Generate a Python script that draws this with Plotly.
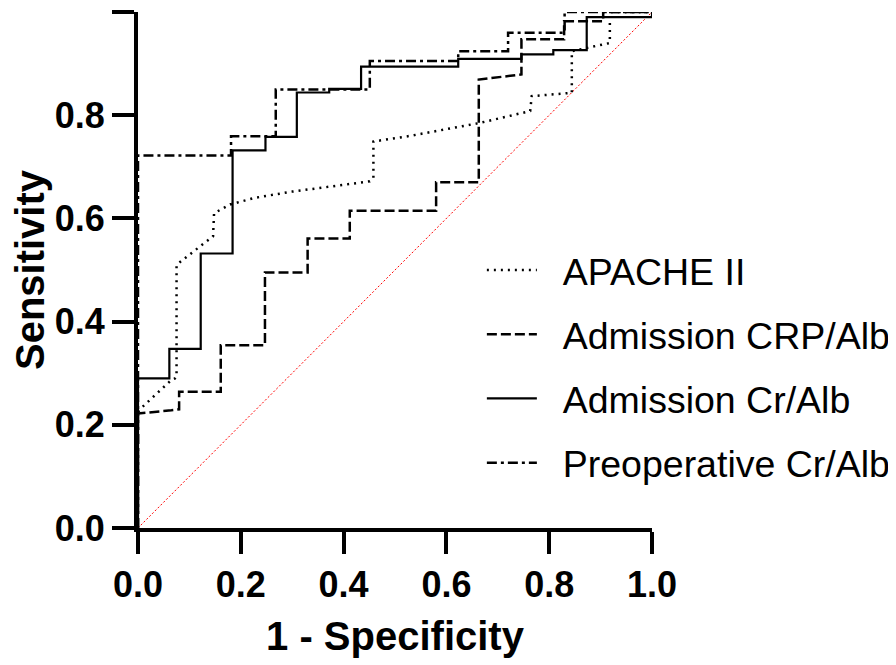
import plotly.graph_objects as go

# ROC curves (1 - specificity, sensitivity)
apache_x = [0, 0.009, 0.065, 0.072, 0.075, 0.075, 0.121, 0.146, 0.148, 0.179, 0.228, 0.30, 0.40, 0.451, 0.458,
            0.458, 0.53, 0.665, 0.763, 0.766, 0.840, 0.844, 0.844, 0.918, 0.918, 0.918, 1.0]
apache_y = [0.225, 0.235, 0.287, 0.290, 0.293, 0.510, 0.546, 0.565, 0.610, 0.627, 0.640, 0.652, 0.665, 0.672, 0.678,
            0.749, 0.760, 0.785, 0.808, 0.837, 0.843, 0.843, 0.924, 0.940, 0.976, 1.0, 1.0]

crp_x = [0, 0, 0.065, 0.080, 0.080, 0.161, 0.161, 0.247, 0.247, 0.330, 0.330, 0.412, 0.412, 0.580, 0.580,
         0.663, 0.663, 0.746, 0.746, 0.829, 0.829, 0.905, 0.905, 1.0]
crp_y = [0, 0.222, 0.228, 0.230, 0.264, 0.264, 0.354, 0.354, 0.495, 0.495, 0.561, 0.561, 0.615, 0.615, 0.670,
         0.670, 0.869, 0.879, 0.947, 0.947, 0.982, 0.982, 1.0, 1.0]

cr_x = [0, 0, 0.061, 0.061, 0.122, 0.122, 0.184, 0.184, 0.248, 0.248, 0.309, 0.309, 0.372, 0.372, 0.434, 0.434,
        0.623, 0.623, 0.746, 0.746, 0.808, 0.808, 0.873, 0.873, 1.0, 1.0]
cr_y = [0, 0.290, 0.290, 0.347, 0.347, 0.532, 0.532, 0.732, 0.732, 0.758, 0.758, 0.844, 0.844, 0.851, 0.851, 0.894,
        0.894, 0.909, 0.909, 0.918, 0.918, 0.926, 0.926, 0.990, 0.990, 1.0]

preop_x = [0, 0, 0.181, 0.181, 0.268, 0.268, 0.451, 0.451, 0.623, 0.623, 0.720, 0.720, 0.830, 0.830, 1.0]
preop_y = [0, 0.722, 0.722, 0.759, 0.759, 0.850, 0.850, 0.905, 0.905, 0.924, 0.924, 0.960, 0.960, 1.0, 1.0]

ref_x = [0, 1]
ref_y = [0, 1]

font_fam = "Arial, Liberation Sans, sans-serif"
pad = "\u00a0\u00a0"  # small gap between legend line and label

fig = go.Figure()
fig.add_trace(go.Scatter(x=ref_x, y=ref_y, mode="lines", showlegend=False,
                         line=dict(color="#ff0000", width=1, dash="2px,2px")))
fig.add_trace(go.Scatter(x=apache_x, y=apache_y, mode="lines", name=pad + "APACHE II", legendgroup="a",
                         line=dict(color="black", width=2.5, dash="2px,5px")))
fig.add_trace(go.Scatter(x=crp_x, y=crp_y, mode="lines", name=pad + "Admission CRP/Alb", legendgroup="b",
                         line=dict(color="black", width=2.5, dash="10px,4px")))
fig.add_trace(go.Scatter(x=cr_x, y=cr_y, mode="lines", name=pad + "Admission Cr/Alb", legendgroup="c",
                         line=dict(color="black", width=2.2)))
fig.add_trace(go.Scatter(x=preop_x, y=preop_y, mode="lines", name=pad + "Preoperative Cr/Alb", legendgroup="d",
                         line=dict(color="black", width=2.5, dash="10px,4px,3px,4px")))

axis_style = dict(range=[0, 1], tickvals=[0, 0.2, 0.4, 0.6, 0.8, 1.0], ticktext=["0.0", "0.2", "0.4", "0.6", "0.8", "1.0"],
                  showline=True, linecolor="black", linewidth=4, ticks="outside", ticklen=22, tickwidth=4,
                  tickcolor="black", showgrid=False, zeroline=False,
                  tickfont=dict(family=font_fam, size=36, color="black", weight="bold"))

fig.update_xaxes(**axis_style, title=dict(text="1 - Specificity", standoff=19,
                 font=dict(family=font_fam, size=40, color="black", weight="bold")))
fig.update_yaxes(**axis_style, title=dict(text="Sensitivity", standoff=14,
                 font=dict(family=font_fam, size=40, color="black", weight="bold")))

# page body adds 8px offset, margins compensate for it
fig.update_layout(
    width=896, height=665,
    margin=dict(l=130, r=252, t=4, b=145, autoexpand=False),
    plot_bgcolor="white", paper_bgcolor="white",
    legend=dict(x=0.669, y=0.56, xanchor="left", yanchor="top", tracegroupgap=12.5,
                font=dict(family=font_fam, size=37.5, color="black"), itemwidth=50,
                bgcolor="rgba(0,0,0,0)"),
)

fig.write_html("out.html")
